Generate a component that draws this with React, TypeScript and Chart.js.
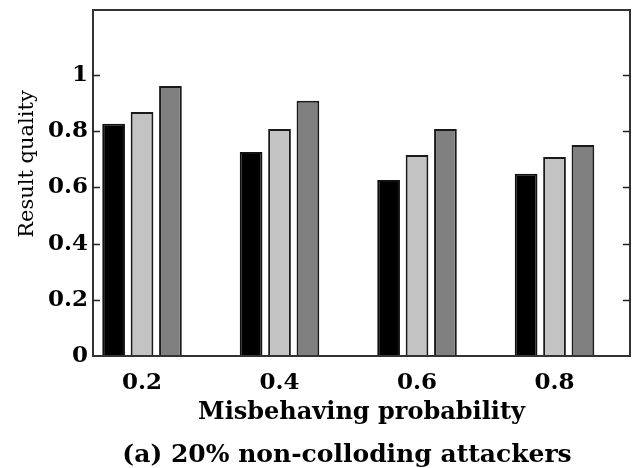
import React, { useEffect, useRef } from 'react';
import { Chart, registerables } from 'chart.js';

Chart.register(...registerables);

// ---- data ----
const categories = [0.2, 0.4, 0.6, 0.8];
const seriesBlack = [0.826, 0.726, 0.626, 0.648];
const seriesLight = [0.868, 0.808, 0.715, 0.708];
const seriesDark = [0.961, 0.908, 0.808, 0.751];
const yTickValues = [0, 0.2, 0.4, 0.6, 0.8, 1];
const xTitle = 'Misbehaving probability';
const yTitle = 'Result quality';
const caption = '(a) 20% non-colloding attackers';

const SERIF = '"DejaVu Serif", "Liberation Serif", serif';

const framePlugin = {
  id: 'frameDecor',
  afterDatasetsDraw(chart: any) {
    const { ctx, chartArea: a, scales } = chart;
    const y = scales.y;
    ctx.save();
    ctx.strokeStyle = '#333';
    ctx.lineWidth = 2;
    ctx.strokeRect(a.left, a.top, a.right - a.left, a.bottom - a.top);
    ctx.lineWidth = 1.5;
    ctx.strokeStyle = '#222';
    for (const t of y.ticks) {
      if (t.value === 0) continue;
      const py = Math.round(y.getPixelForValue(t.value)) + 0.5;
      ctx.beginPath();
      ctx.moveTo(a.left, py);
      ctx.lineTo(a.left + 7, py);
      ctx.moveTo(a.right - 7, py);
      ctx.lineTo(a.right, py);
      ctx.stroke();
    }
    ctx.restore();
  },
  afterDraw(chart: any) {
    const { ctx } = chart;
    ctx.save();
    ctx.fillStyle = '#000';
    ctx.textAlign = 'center';
    ctx.textBaseline = 'middle';
    // y title
    ctx.save();
    ctx.translate(28, 164);
    ctx.rotate(-Math.PI / 2);
    ctx.font = `21px ${SERIF}`;
    ctx.fillText(yTitle, 0, 0);
    ctx.restore();
    // caption
    ctx.font = `bold 25px ${SERIF}`;
    ctx.fillText(caption, 347, 455);
    ctx.restore();
  },
};

export default function App() {
  const ref = useRef<HTMLCanvasElement | null>(null);

  useEffect(() => {
    if (!ref.current) return;
    const mk = (vals: number[]) => categories.map((c, i) => ({ x: c, y: vals[i] }));
    const chart = new Chart(ref.current, {
      type: 'bar',
      data: {
        datasets: [
          { label: 'A', data: mk(seriesBlack) as any, backgroundColor: '#000', borderColor: '#111', borderWidth: 2 },
          { label: 'B', data: mk(seriesLight) as any, backgroundColor: '#c3c3c3', borderColor: '#1a1a1a', borderWidth: 2 },
          { label: 'C', data: mk(seriesDark) as any, backgroundColor: '#808080', borderColor: '#1a1a1a', borderWidth: 2 },
        ],
      },
      options: {
        responsive: false,
        animation: false,
        devicePixelRatio: 1,
        categoryPercentage: 0.62,
        barPercentage: 0.8,
        layout: { padding: { top: 10, right: 3, left: 0, bottom: 0 } },
        plugins: {
          legend: { display: false },
          tooltip: { enabled: false },
          title: { display: false },
        },
        scales: {
          x: {
            type: 'linear',
            offset: false,
            min: 0.1287,
            max: 0.9098,
            grid: { display: false, drawTicks: false },
            border: { display: false },
            afterBuildTicks: (s: any) => {
              s.ticks = categories.map((v) => ({ value: v }));
            },
            afterFit: (s: any) => {
              s.height = 112;
              s.paddingLeft = 0;
              s.paddingRight = 0;
            },
            ticks: {
              padding: 13,
              color: '#000',
              font: { family: SERIF, size: 23, weight: 'bold' },
              callback: (v: any) => String(v),
            },
            title: {
              display: true,
              text: xTitle,
              color: '#000',
              font: { family: SERIF, size: 24, weight: 'bold' },
              padding: { top: 0, bottom: 41 },
            },
          },
          y: {
            min: 0,
            max: 1.231,
            grid: { display: false, drawTicks: false },
            border: { display: false },
            afterBuildTicks: (s: any) => {
              s.ticks = yTickValues.map((v) => ({ value: v }));
            },
            afterFit: (s: any) => {
              s.width = 93;
              s.paddingTop = 0;
              s.paddingBottom = 0;
            },
            ticks: {
              padding: 5,
              color: '#000',
              font: { family: SERIF, size: 23, weight: 'bold' },
              callback: (v: any) => String(Number(Number(v).toFixed(1))),
            },
          },
        },
      } as any,
      plugins: [framePlugin],
    });
    return () => chart.destroy();
  }, []);

  return (
    <div style={{ position: 'fixed', left: 0, top: 0, width: 633, height: 468, background: '#fff' }}>
      <canvas ref={ref} width={633} height={468} />
    </div>
  );
}
